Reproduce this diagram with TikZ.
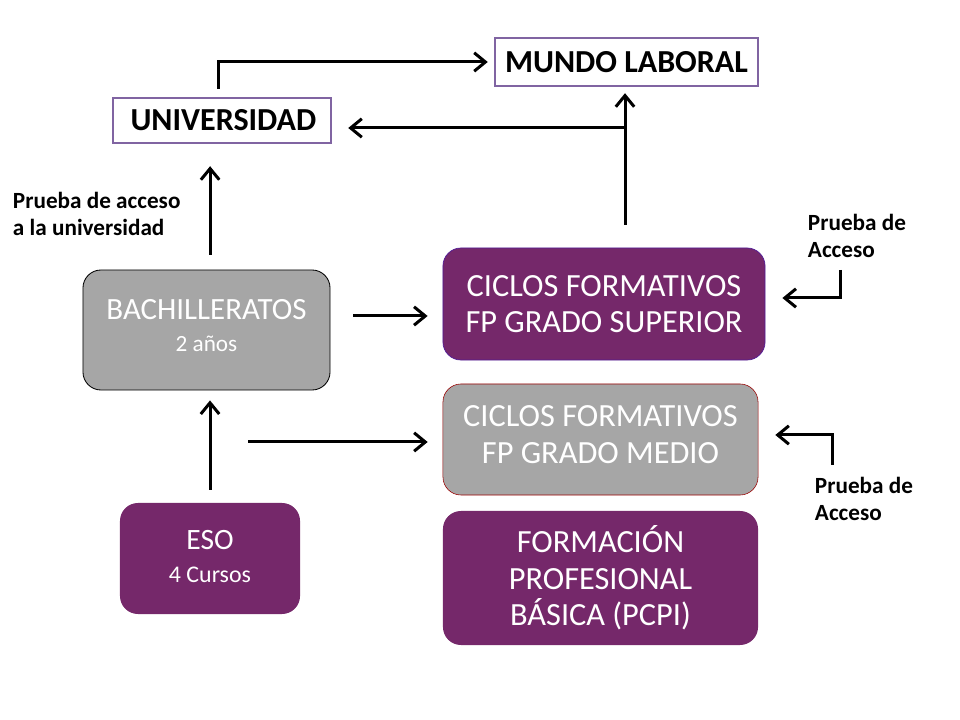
\documentclass[tikz,border=0pt]{standalone}
\usepackage{fontspec}
\setmainfont{Carlito}
\usetikzlibrary{arrows.meta}
\definecolor{morado}{HTML}{75286A}
\definecolor{gris}{HTML}{A6A6A6}
\definecolor{lila}{HTML}{8064A2}
\tikzset{
  flecha/.style={line width=0.075cm, -{Straight Barb[length=0.28cm, width=0.46cm]}},
  destino/.style={draw=lila, line width=0.06cm, fill=white, inner sep=0pt, font=\bfseries\fontsize{22.8}{26}\selectfont},
  caja/.style={rounded corners=0.45cm, text=white, align=center, inner sep=0pt},
  etiqueta/.style={font=\bfseries\fontsize{16.5}{19.8}\selectfont, align=left}
}
\begin{document}
\begin{tikzpicture}[x=0.025cm, y=-0.025cm]
  \useasboundingbox (0,0) rectangle (960,720);

  % Destinations
  \node[destino, minimum width=5.45cm, minimum height=1.125cm] (uni) at (222,120.5) {\hspace{2pt}UNIVERSIDAD};
  \node[destino, minimum width=6.575cm, minimum height=1.2cm, font=\bfseries\fontsize{22.8}{24}\selectfont] (mundo) at (626.5,62) {MUNDO LABORAL};

  % Left column
  \node[caja, draw=black, line width=0.6pt, fill=gris, minimum width=6.175cm, minimum height=3cm,
    font=\fontsize{22}{23}\selectfont] (bach) at (206.5,330)
    {BACHILLERATOS\\{\fontsize{16.5}{18}\selectfont 2 años}\\[-17pt]};
  \node[caja, fill=morado, minimum width=4.5cm, minimum height=2.775cm,
    font=\fontsize{21}{23}\selectfont] (eso) at (210,558.5)
    {ESO\\{\fontsize{17}{18}\selectfont 4 Cursos}\\[-20pt]};

  % Right column
  \node[caja, draw=morado!70!blue, line width=0.5pt, fill=morado, minimum width=8.05cm, minimum height=2.8cm,
    font=\fontsize{23}{26}\selectfont] (cfgs) at (604,304) {CICLOS FORMATIVOS\\FP GRADO SUPERIOR};
  \node[caja, draw=red!60!black, line width=0.4pt, fill=gris, minimum width=7.875cm, minimum height=2.775cm,
    font=\fontsize{23}{26}\selectfont] (cfgm) at (600.5,439.5) {CICLOS FORMATIVOS\\FP GRADO MEDIO\\[-19pt]};
  \node[caja, fill=morado, minimum width=7.875cm, minimum height=3.35cm,
    font=\fontsize{23}{26}\selectfont] (fpb) at (600.5,578) {FORMACIÓN\\PROFESIONAL\\BÁSICA (PCPI)};

  % Labels
  \node[etiqueta, anchor=west] (pau) at (8,214) {Prueba de acceso\\a la universidad};
  \node[etiqueta, anchor=west] (pa1) at (803,236) {Prueba de\\Acceso};
  \node[etiqueta, anchor=west] (pa2) at (810,499) {Prueba de\\Acceso};

  % Junctions and free ends
  \coordinate (jn) at (625,128);
  \coordinate (r1) at (0,316);
  \coordinate (e0) at (248,442);
  \coordinate (b1) at (840,270);
  \coordinate (b2) at (832,465);

  % Arrows
  \draw[flecha, shorten <=0.2cm, shorten >=0.15cm] ([xshift=-0.1cm]uni.north) |- (mundo.west);
  \draw[flecha, shorten <=0.575cm, shorten >=0.15cm] (cfgs.north -| jn) -- (mundo.south -| jn);
  \draw[flecha, shorten >=0.4cm] (jn) -- (jn -| uni.east);
  \draw[flecha, shorten <=0.375cm, shorten >=0.55cm] ([xshift=0.09cm]bach.north) -- ([xshift=0.09cm]bach.north |- uni.south);
  \draw[flecha, shorten <=0.325cm, shorten >=0.25cm] (eso.north) -- (eso.north |- bach.south);
  \draw[flecha, shorten <=0.575cm, shorten >=0.375cm] (bach.east |- r1) -- (cfgs.west |- r1);
  \draw[flecha, shorten >=0.375cm] (e0) -- (e0 -| cfgm.west);
  \draw[flecha, shorten >=0.425cm] (b1) |- (cfgs.east |- 0,298);
  \draw[flecha, shorten >=0.425cm] (b2) |- (cfgm.east |- 0,435);
\end{tikzpicture}
\end{document}
